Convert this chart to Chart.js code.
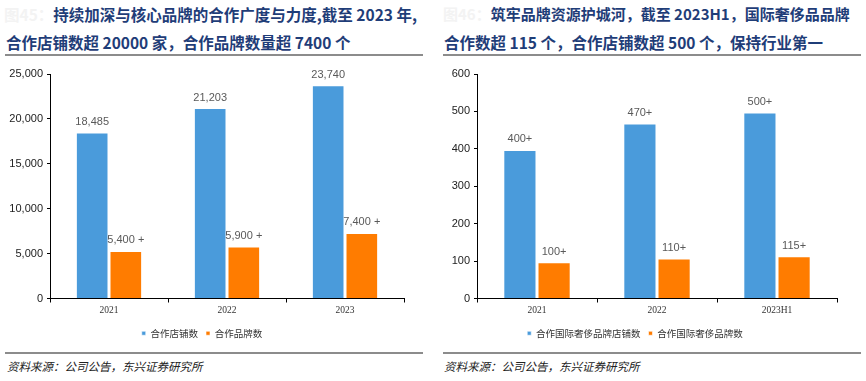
<!DOCTYPE html>
<html><head><meta charset="utf-8">
<script src="https://cdn.jsdelivr.net/npm/chart.js@4"></script>
<style>
html,body{margin:0;padding:0;background:#fff;width:866px;height:381px;overflow:hidden;position:relative;font-family:"Noto Sans CJK SC","Noto Sans",sans-serif}
.t{position:absolute;font-weight:bold;font-size:15.5px;color:#1f3d78;white-space:nowrap;line-height:20px}
.t .p{color:#f3f3f3}
.hr{position:absolute;height:1.5px;background:#8c8c8c}
.src{position:absolute;font-size:11.5px;font-style:italic;color:#222;white-space:nowrap}
.cw{position:absolute}
</style></head><body>
<div class="t" style="left:4px;top:4px"><span class="p">图45：</span>持续加深与核心品牌的合作广度与力度,截至 2023 年,</div>
<div class="t" style="left:6px;top:32px">合作店铺数超 20000 家，合作品牌数量超 7400 个</div>
<div class="hr" style="left:5px;top:54px;width:418px"></div>
<div class="t" style="left:443px;top:4px;font-size:15px"><span class="p">图46：</span>筑牢品牌资源护城河，截至 2023H1，国际奢侈品品牌</div>
<div class="t" style="left:444px;top:32px">合作数超 115 个，合作店铺数超 500 个，保持行业第一</div>
<div class="hr" style="left:443px;top:54px;width:418px"></div>
<div class="cw" style="left:0;top:60px;width:433px;height:288px"><canvas id="c1"></canvas></div>
<div class="cw" style="left:433px;top:60px;width:433px;height:288px"><canvas id="c2"></canvas></div>
<div class="hr" style="left:5px;top:352px;width:418px"></div>
<div class="hr" style="left:443px;top:352px;width:418px"></div>
<div class="src" style="left:7px;top:358px">资料来源：公司公告，东兴证券研究所</div>
<div class="src" style="left:444px;top:358px">资料来源：公司公告，东兴证券研究所</div>
<script>
const years1 = ["2021","2022","2023"];
const stores1 = [18485, 21203, 23740];
const brands1 = [5300, 5800, 7300];
const storeLabels1 = ["18,485","21,203","23,740"];
const brandLabels1 = ["5,400 +","5,900 +","7,400 +"];
const yTicks1 = {max:25000, step:5000};

const years2 = ["2021","2022","2023H1"];
const stores2 = [397, 468, 497];
const brands2 = [97, 107, 113];
const storeLabels2 = ["400+","470+","500+"];
const brandLabels2 = ["100+","110+","115+"];
const yTicks2 = {max:600, step:100};

const BLUE = "#4a9bdb", ORANGE = "#ff7c00";

const labelPlugin = {
  id:'vlabels',
  afterDatasetsDraw(chart){
    const ctx = chart.ctx;
    ctx.save();
    ctx.font = '11px "Liberation Sans", Arial, sans-serif';
    ctx.fillStyle = '#595959';
    ctx.textAlign = 'center';
    ctx.textBaseline = 'bottom';
    chart.data.datasets.forEach((ds,i)=>{
      chart.getDatasetMeta(i).data.forEach((el,j)=>{
        ctx.fillText(ds.labelsText[j], el.x, el.y - 5);
      });
    });
    ctx.restore();
  }
};

function make(id, cats, s1, s2, l1, l2, names, yt, yw){
  new Chart(document.getElementById(id), {
    type:'bar',
    data:{labels:cats, datasets:[
      {label:names[0], data:s1, labelsText:l1, backgroundColor:BLUE, borderColor:'rgba(255,255,255,0.6)', borderWidth:1, categoryPercentage:0.57, barPercentage:0.97},
      {label:names[1], data:s2, labelsText:l2, backgroundColor:ORANGE, borderColor:'rgba(255,255,255,0.6)', borderWidth:1, categoryPercentage:0.57, barPercentage:0.97}
    ]},
    options:{
      responsive:true, maintainAspectRatio:false, animation:false,
      layout:{padding:{top:14,right:29,left:0,bottom:0}},
      plugins:{
        tooltip:{enabled:false},
        legend:{position:'bottom', labels:{usePointStyle:true, pointStyle:'rect', boxWidth:4, boxHeight:4, padding:8, color:'#333', font:{size:9.5, family:'"Noto Sans CJK SC"'}}}
      },
      scales:{
        x:{
          grid:{display:true, drawOnChartArea:false, drawTicks:true, tickLength:4, offset:true, color:'#000'},
          border:{color:'#000', width:1},
          ticks:{color:'#333', font:{size:9.5, family:'"Liberation Serif", serif'}, padding:2},
          afterFit(s){ s.height = 22; }
        },
        y:{
          min:0, max:yt.max,
          grid:{display:true, drawOnChartArea:false, drawTicks:true, tickLength:3, color:'#000'},
          border:{color:'#000', width:1},
          ticks:{stepSize:yt.step, color:'#222', font:{size:11, family:'"Liberation Sans", Arial, sans-serif'}, padding:4,
            callback:(v)=>v.toLocaleString('en-US')},
          afterFit(s){ s.width = yw; }
        }
      }
    },
    plugins:[labelPlugin]
  });
}
make('c1', years1, stores1, brands1, storeLabels1, brandLabels1, ["合作店铺数","合作品牌数"], yTicks1, 50);
make('c2', years2, stores2, brands2, storeLabels2, brandLabels2, ["合作国际奢侈品牌店铺数","合作国际奢侈品牌数"], yTicks2, 44);
</script>
</body></html>
